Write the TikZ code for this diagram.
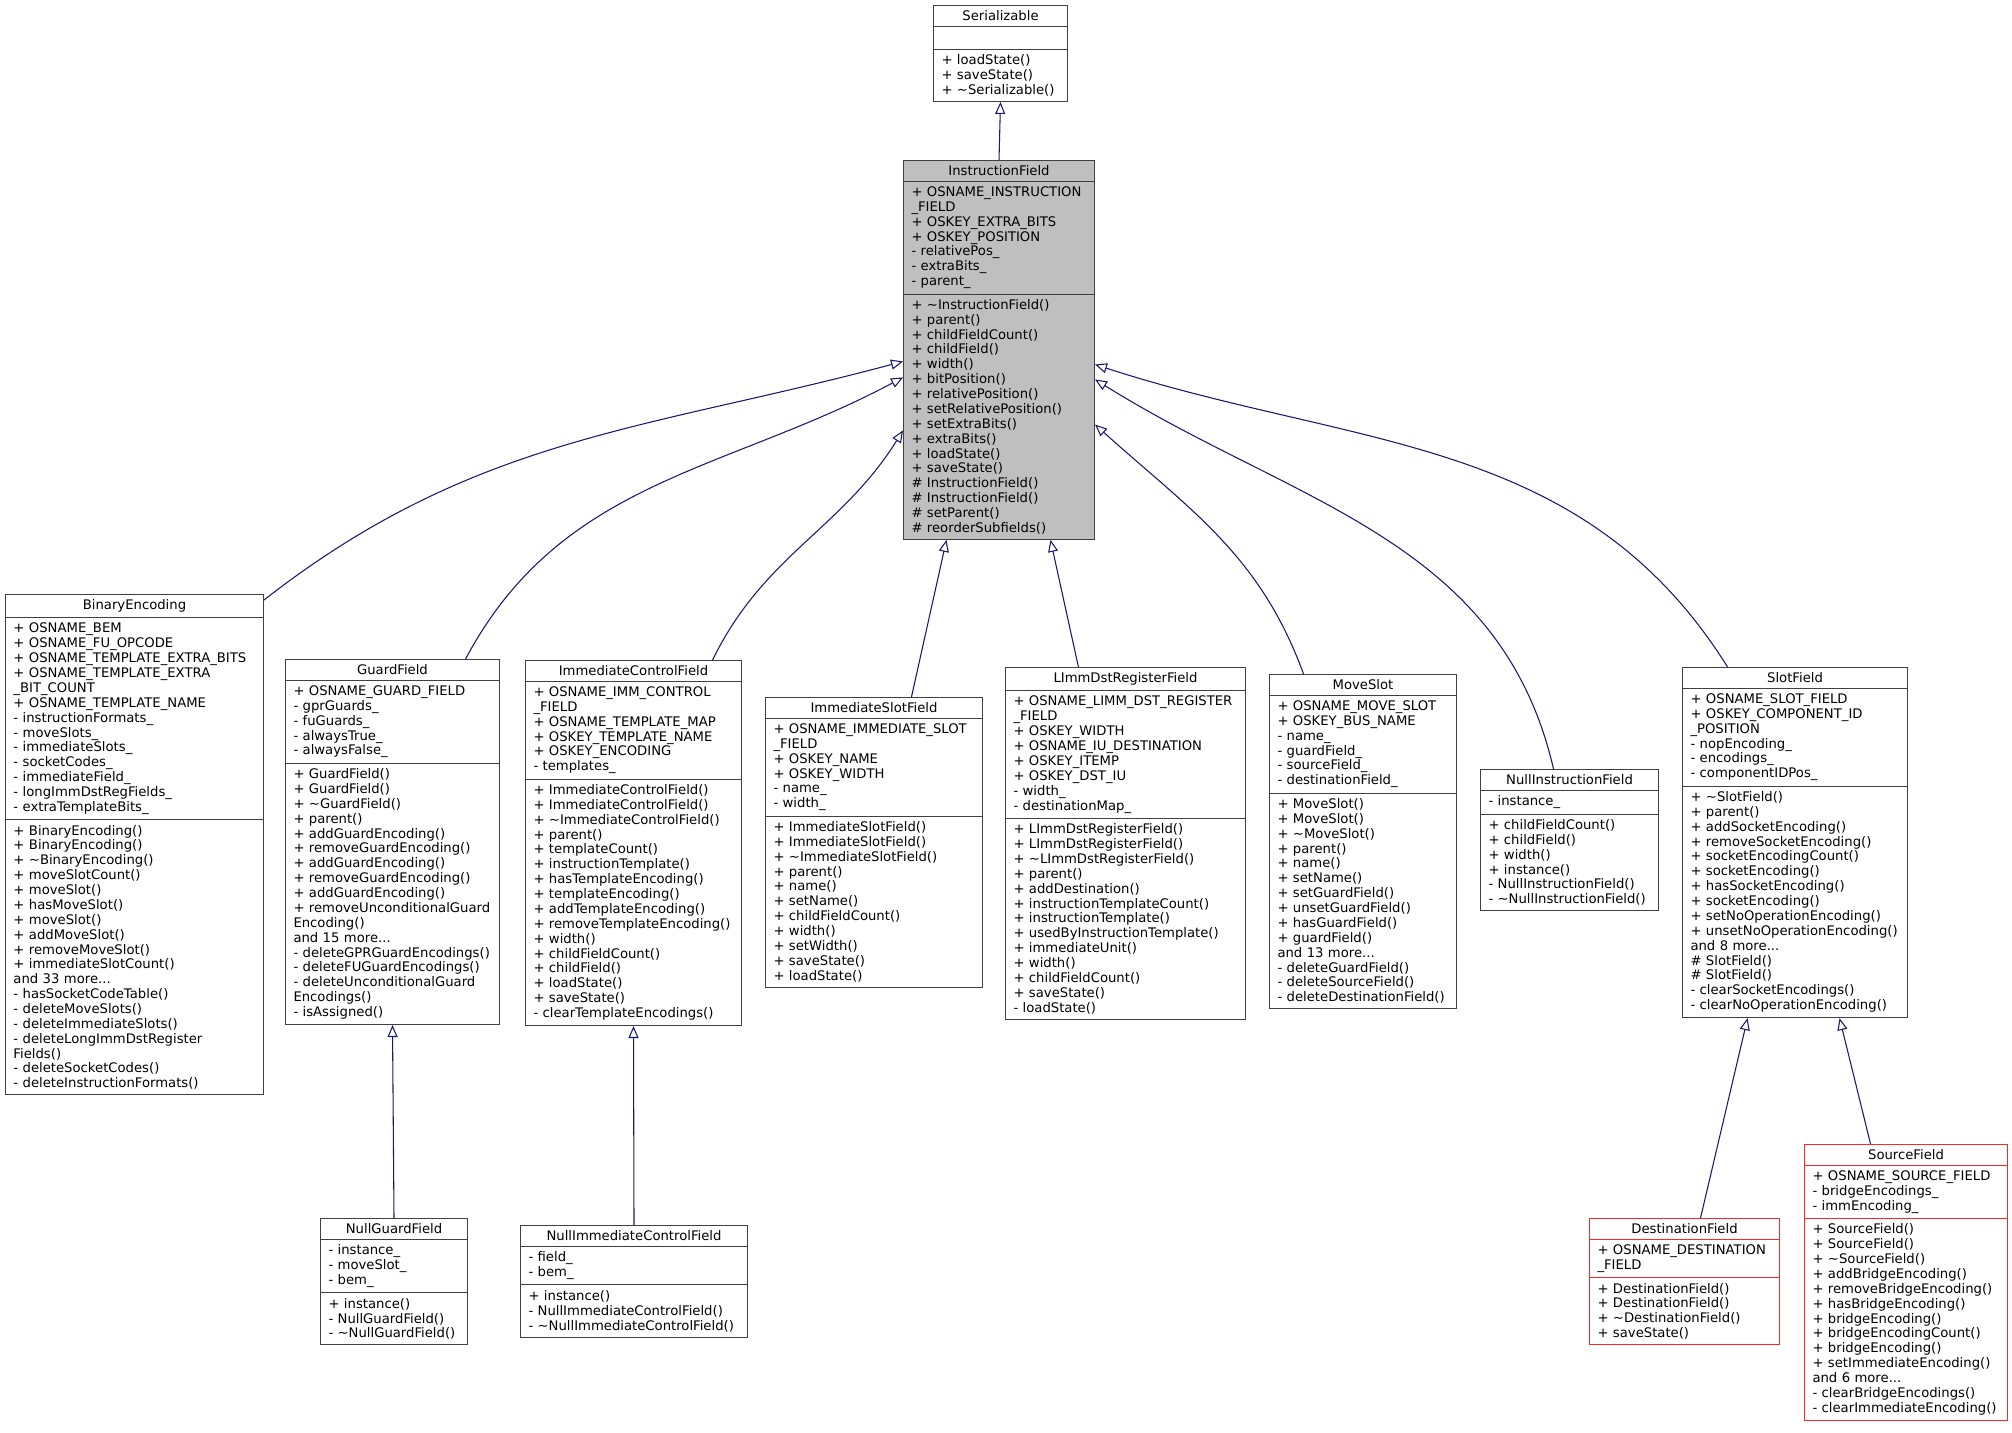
\documentclass[tikz,border=0pt]{standalone}
\usepackage{fontspec}
\setmainfont{DejaVu Sans}
\usepackage{tikz}
\usetikzlibrary{arrows.meta, shapes.multipart}

\begin{document}
\begin{tikzpicture}[
        x=0.75pt, y=-0.75pt,
        classbox/.style={draw=black!75, line width=0.75pt, fill=white, rectangle split, rectangle split parts=3,
            anchor=north west, align=left, inner xsep=6pt, inner ysep=3.6pt,
            font=\fontsize{9.9}{11.15}\selectfont},
        classhl/.style={classbox, fill=black!25},
        classred/.style={classbox, draw=red!85},
        inherit/.style={draw={rgb,255:red,25;green,25;blue,112}, line width=0.8pt, -{Triangle[open, length=9pt, width=7.5pt]}}
    ]
        \useasboundingbox (0,0) rectangle (2012,1432);
        % Classes
            \node[classbox, text width=88.5pt] (serial) at (933,5) {\makebox[\linewidth]{Serializable}
                \nodepart{two}\vphantom{Xg}
                \nodepart{three}+ loadState()\\+ saveState()\\+ \textasciitilde Serializable()};
            \node[classhl, text width=131.25pt] (instr) at (903,160) {\makebox[\linewidth]{InstructionField}
                \nodepart{two}+ OSNAME\_INSTRUCTION\\\_FIELD\\+ OSKEY\_EXTRA\_BITS\\+ OSKEY\_POSITION\\- relativePos\_\\- extraBits\_\\- parent\_
                \nodepart{three}+ \textasciitilde InstructionField()\\+ parent()\\+ childFieldCount()\\+ childField()\\+ width()\\+ bitPosition()\\+ relativePosition()\\+ setRelativePosition()\\+ setExtraBits()\\+ extraBits()\\+ loadState()\\+ saveState()\\\# InstructionField()\\\# InstructionField()\\\# setParent()\\\# reorderSubfields()};
            \node[classbox, text width=181.5pt] (binenc) at (5,594) {\makebox[\linewidth]{BinaryEncoding}
                \nodepart{two}+ OSNAME\_BEM\\+ OSNAME\_FU\_OPCODE\\+ OSNAME\_TEMPLATE\_EXTRA\_BITS\\+ OSNAME\_TEMPLATE\_EXTRA\\\_BIT\_COUNT\\+ OSNAME\_TEMPLATE\_NAME\\- instructionFormats\_\\- moveSlots\_\\- immediateSlots\_\\- socketCodes\_\\- immediateField\_\\- longImmDstRegFields\_\\- extraTemplateBits\_
                \nodepart{three}+ BinaryEncoding()\\+ BinaryEncoding()\\+ \textasciitilde BinaryEncoding()\\+ moveSlotCount()\\+ moveSlot()\\+ hasMoveSlot()\\+ moveSlot()\\+ addMoveSlot()\\+ removeMoveSlot()\\+ immediateSlotCount()\\and 33 more...\\- hasSocketCodeTable()\\- deleteMoveSlots()\\- deleteImmediateSlots()\\- deleteLongImmDstRegister\\Fields()\\- deleteSocketCodes()\\- deleteInstructionFormats()};
            \node[classbox, text width=148.5pt] (guard) at (285,659) {\makebox[\linewidth]{GuardField}
                \nodepart{two}+ OSNAME\_GUARD\_FIELD\\- gprGuards\_\\- fuGuards\_\\- alwaysTrue\_\\- alwaysFalse\_
                \nodepart{three}+ GuardField()\\+ GuardField()\\+ \textasciitilde GuardField()\\+ parent()\\+ addGuardEncoding()\\+ removeGuardEncoding()\\+ addGuardEncoding()\\+ removeGuardEncoding()\\+ addGuardEncoding()\\+ removeUnconditionalGuard\\Encoding()\\and 15 more...\\- deleteGPRGuardEncodings()\\- deleteFUGuardEncodings()\\- deleteUnconditionalGuard\\Encodings()\\- isAssigned()};
            \node[classbox, text width=150pt] (immctrl) at (525,660) {\makebox[\linewidth]{ImmediateControlField}
                \nodepart{two}+ OSNAME\_IMM\_CONTROL\\\_FIELD\\+ OSNAME\_TEMPLATE\_MAP\\+ OSKEY\_TEMPLATE\_NAME\\+ OSKEY\_ENCODING\\- templates\_
                \nodepart{three}+ ImmediateControlField()\\+ ImmediateControlField()\\+ \textasciitilde ImmediateControlField()\\+ parent()\\+ templateCount()\\+ instructionTemplate()\\+ hasTemplateEncoding()\\+ templateEncoding()\\+ addTemplateEncoding()\\+ removeTemplateEncoding()\\+ width()\\+ childFieldCount()\\+ childField()\\+ loadState()\\+ saveState()\\- clearTemplateEncodings()};
            \node[classbox, text width=150.75pt] (immslot) at (765,697) {\makebox[\linewidth]{ImmediateSlotField}
                \nodepart{two}+ OSNAME\_IMMEDIATE\_SLOT\\\_FIELD\\+ OSKEY\_NAME\\+ OSKEY\_WIDTH\\- name\_\\- width\_
                \nodepart{three}+ ImmediateSlotField()\\+ ImmediateSlotField()\\+ \textasciitilde ImmediateSlotField()\\+ parent()\\+ name()\\+ setName()\\+ childFieldCount()\\+ width()\\+ setWidth()\\+ saveState()\\+ loadState()};
            \node[classbox, text width=168pt] (limmdst) at (1005,667) {\makebox[\linewidth]{LImmDstRegisterField}
                \nodepart{two}+ OSNAME\_LIMM\_DST\_REGISTER\\\_FIELD\\+ OSKEY\_WIDTH\\+ OSNAME\_IU\_DESTINATION\\+ OSKEY\_ITEMP\\+ OSKEY\_DST\_IU\\- width\_\\- destinationMap\_
                \nodepart{three}+ LImmDstRegisterField()\\+ LImmDstRegisterField()\\+ \textasciitilde LImmDstRegisterField()\\+ parent()\\+ addDestination()\\+ instructionTemplateCount()\\+ instructionTemplate()\\+ usedByInstructionTemplate()\\+ immediateUnit()\\+ width()\\+ childFieldCount()\\+ saveState()\\- loadState()};
            \node[classbox, text width=128.25pt] (moveslot) at (1269,674) {\makebox[\linewidth]{MoveSlot}
                \nodepart{two}+ OSNAME\_MOVE\_SLOT\\+ OSKEY\_BUS\_NAME\\- name\_\\- guardField\_\\- sourceField\_\\- destinationField\_
                \nodepart{three}+ MoveSlot()\\+ MoveSlot()\\+ \textasciitilde MoveSlot()\\+ parent()\\+ name()\\+ setName()\\+ setGuardField()\\+ unsetGuardField()\\+ hasGuardField()\\+ guardField()\\and 13 more...\\- deleteGuardField()\\- deleteSourceField()\\- deleteDestinationField()};
            \node[classbox, text width=121.5pt] (nullinstr) at (1480,769) {\makebox[\linewidth]{NullInstructionField}
                \nodepart{two}- instance\_
                \nodepart{three}+ childFieldCount()\\+ childField()\\+ width()\\+ instance()\\- NullInstructionField()\\- \textasciitilde NullInstructionField()};
            \node[classbox, text width=156.75pt] (slot) at (1682,667) {\makebox[\linewidth]{SlotField}
                \nodepart{two}+ OSNAME\_SLOT\_FIELD\\+ OSKEY\_COMPONENT\_ID\\\_POSITION\\- nopEncoding\_\\- encodings\_\\- componentIDPos\_
                \nodepart{three}+ \textasciitilde SlotField()\\+ parent()\\+ addSocketEncoding()\\+ removeSocketEncoding()\\+ socketEncodingCount()\\+ socketEncoding()\\+ hasSocketEncoding()\\+ socketEncoding()\\+ setNoOperationEncoding()\\+ unsetNoOperationEncoding()\\and 8 more...\\\# SlotField()\\\# SlotField()\\- clearSocketEncodings()\\- clearNoOperationEncoding()};
            \node[classbox, text width=98.25pt] (nullguard) at (320,1218) {\makebox[\linewidth]{NullGuardField}
                \nodepart{two}- instance\_\\- moveSlot\_\\- bem\_
                \nodepart{three}+ instance()\\- NullGuardField()\\- \textasciitilde NullGuardField()};
            \node[classbox, text width=158.25pt] (nullimm) at (520,1225) {\makebox[\linewidth]{NullImmediateControlField}
                \nodepart{two}- field\_\\- bem\_
                \nodepart{three}+ instance()\\- NullImmediateControlField()\\- \textasciitilde NullImmediateControlField()};
            \node[classred, text width=130.5pt] (dest) at (1589,1218) {\makebox[\linewidth]{DestinationField}
                \nodepart{two}+ OSNAME\_DESTINATION\\\_FIELD
                \nodepart{three}+ DestinationField()\\+ DestinationField()\\+ \textasciitilde DestinationField()\\+ saveState()};
            \node[classred, text width=140.25pt] (source) at (1804,1144) {\makebox[\linewidth]{SourceField}
                \nodepart{two}+ OSNAME\_SOURCE\_FIELD\\- bridgeEncodings\_\\- immEncoding\_
                \nodepart{three}+ SourceField()\\+ SourceField()\\+ \textasciitilde SourceField()\\+ addBridgeEncoding()\\+ removeBridgeEncoding()\\+ hasBridgeEncoding()\\+ bridgeEncoding()\\+ bridgeEncodingCount()\\+ bridgeEncoding()\\+ setImmediateEncoding()\\and 6 more...\\- clearBridgeEncodings()\\- clearImmediateEncoding()};

            % Inheritance
            \draw[inherit] (instr.north) -- (serial.south);
            \draw[inherit] ([yshift=-4.5pt]binenc.north east) to[out=38, in=195] ([yshift=-8.6pt]instr.west);
            \draw[inherit] ([xshift=54.8pt]guard.north) to[out=62, in=208] ([yshift=-20.6pt]instr.west);
            \draw[inherit] ([xshift=59.3pt]immctrl.north) to[out=64, in=238] ([yshift=-60.4pt]instr.west);
            \draw[inherit] ([xshift=28.1pt]immslot.north) -- ([xshift=-39.4pt]instr.south);
            \draw[inherit] ([xshift=-35.3pt]limmdst.north) -- ([xshift=38.6pt]instr.south);
            \draw[inherit] ([xshift=-44.6pt]moveslot.north) to[out=110, in=-42] ([yshift=-55.9pt]instr.east);
            \draw[inherit] ([xshift=-12pt]nullinstr.north) to[out=103, in=-32] ([yshift=-22.1pt]instr.east);
            \draw[inherit] ([xshift=-50.6pt]slot.north) to[out=122, in=-18] ([yshift=-10.9pt]instr.east);
            \draw[inherit] (nullguard.north) -- (guard.south);
            \draw[inherit] (nullimm.north) -- (immctrl.south);
            \draw[inherit] ([xshift=12pt]dest.north) -- ([xshift=-35.6pt]slot.south);
            \draw[inherit] ([xshift=-26.6pt]source.north) -- ([xshift=33.4pt]slot.south);
\end{tikzpicture}
\end{document}
